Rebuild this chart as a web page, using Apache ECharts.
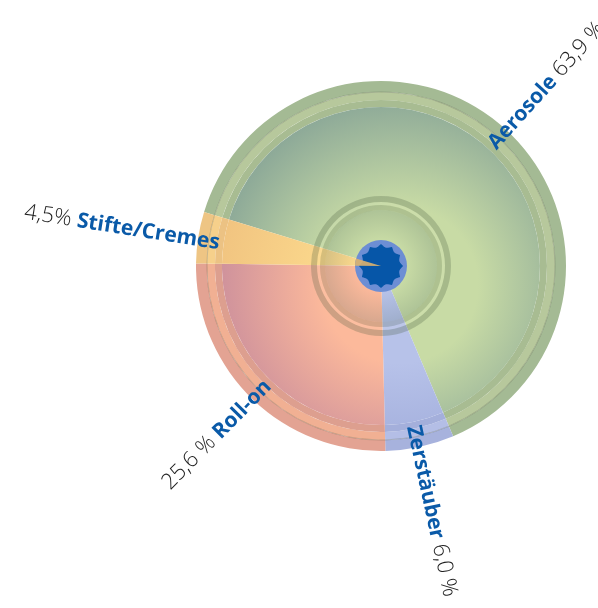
<!DOCTYPE html>
<html>
<head>
<meta charset="utf-8">
<script src="https://cdn.jsdelivr.net/npm/echarts@6/dist/echarts.min.js"></script>
<style>
  html, body { margin: 0; padding: 0; background: #ffffff; }
  #chart { width: 598px; height: 608px; }
</style>
</head>
<body>
<div id="chart"></div>
<script>
// Market shares of deodorant product types
const categories = ['Aerosole', 'Zerstäuber', 'Roll-on', 'Stifte/Cremes'];
const shares = [63.9, 6.0, 25.6, 4.5];
const shareLabels = ['63,9 %', '6,0 %', '25,6 %', '4,5%'];

// Segment colours (same order as categories)
const faceLight = ['#c8dba5', '#b7c2e9', '#fcb99b', '#fbd88c'];
const faceDark  = ['#88a597', '#9ca8d8', '#c88c9c', '#f0c27f'];
const rimOuter  = ['#a4ba94', '#a7b2dd', '#e3a393', '#eec584'];
const rimLight  = ['#b7c89c', '#b4bee6', '#f1b093', '#f6d08b'];
const rimInner  = ['#a8bc92', '#a4afdb', '#dd9f8f', '#ecc283'];

const CX = 381, CY = 266;
const START = 163;

const chart = echarts.init(document.getElementById('chart'), null, { renderer: 'canvas' });

function segData(colorFn) {
  return categories.map((name, i) => ({
    name: name,
    value: shares[i],
    itemStyle: { color: colorFn(i) }
  }));
}

function faceGradient(i) {
  return {
    type: 'radial', x: 400, y: 285, r: 195, global: true,
    colorStops: [
      { offset: 0, color: faceLight[i] },
      { offset: 0.4, color: faceLight[i] },
      { offset: 1, color: faceDark[i] }
    ]
  };
}

function ringSeries(radius, colorFn, z) {
  return {
    type: 'pie',
    center: [CX, CY],
    radius: radius,
    startAngle: START,
    clockwise: true,
    silent: true,
    animation: false,
    avoidLabelOverlap: false,
    z: z || 2,
    label: { show: false },
    labelLine: { show: false },
    emphasis: { disabled: true },
    data: segData(colorFn)
  };
}

// which side of the dial a label sits on (text order is flipped on the left)
const total = shares.reduce((a, b) => a + b, 0);
const onLeft = (() => {
  let acc = 0;
  return shares.map(v => {
    const mid = (START - (acc + v / 2) / total * 360) * Math.PI / 180;
    acc += v;
    return Math.cos(mid) < 0;
  });
})();

const faceSeries = ringSeries([0, 159], faceGradient, 3);
faceSeries.label = {
  show: true,
  position: 'outside',
  rotate: 'radial',
  distanceToLabelLine: 0,
  formatter: p => onLeft[p.dataIndex]
    ? '{v|' + shareLabels[p.dataIndex] + ' }{n|' + p.name + '}'
    : '{n|' + p.name + '}{v| ' + shareLabels[p.dataIndex] + '}',
  rich: {
    n: { fontFamily: 'Open Sans', fontWeight: 'bold', fontSize: 21, color: '#0a5aa8', verticalAlign: 'bottom', lineHeight: 26 },
    v: { fontFamily: 'Open Sans', fontWeight: 300, fontSize: 22, color: '#1e1e1e', verticalAlign: 'bottom', lineHeight: 26 }
  }
};
faceSeries.labelLine = { show: false, length: 4, length2: 0 };

// scalloped cap in the middle
function capPoints(rOut, depth, lobes) {
  const pts = [];
  const n = 360;
  for (let k = 0; k < n; k++) {
    const t = k / n * Math.PI * 2;
    const r = rOut - depth * Math.abs(Math.sin(lobes / 2 * t));
    pts.push([CX + r * Math.cos(t), CY + r * Math.sin(t)]);
  }
  return pts;
}

const option = {
  backgroundColor: '#ffffff',
  animation: false,
  series: [
    ringSeries([174, 185], i => rimOuter[i]),
    ringSeries([166, 174], i => rimLight[i]),
    ringSeries([159, 166], i => rimInner[i]),
    ringSeries([173.5, 174.5], () => 'rgba(70,80,60,0.25)'),
    faceSeries,
    ringSeries([64, 70], () => 'rgba(70,90,60,0.26)', 4),
    ringSeries([61, 64], () => 'rgba(255,255,235,0.08)', 4),
    ringSeries([56, 61], () => 'rgba(70,90,60,0.2)', 4),
    ringSeries([26, 56], () => ({
      type: 'radial', x: CX, y: CY, r: 56, global: true,
      colorStops: [
        { offset: 0.45, color: 'rgba(70,100,95,0)' },
        { offset: 1, color: 'rgba(70,100,95,0.2)' }
      ]
    }), 4),
    ringSeries([0, 26], i => i === 3 ? 'rgba(220,178,110,0.9)' : 'rgba(0,0,0,0)', 11)
  ],
  graphic: [
    { type: 'circle', silent: true, z: 10, shape: { cx: CX, cy: CY, r: 26 }, style: { fill: '#6d8ed4' } },
    { type: 'polygon', silent: true, z: 10, shape: { points: capPoints(22, 3, 12) }, style: { fill: '#0656a8' } }
  ]
};

chart.setOption(option);
</script>
</body>
</html>
